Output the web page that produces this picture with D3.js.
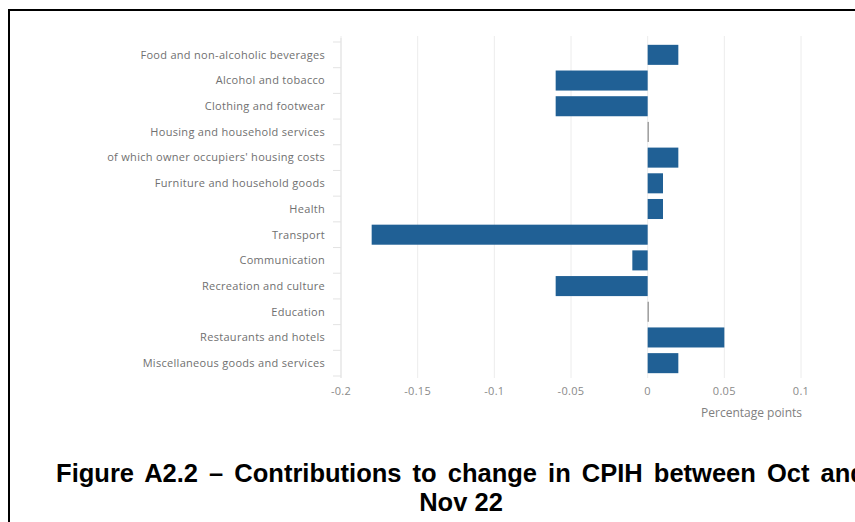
<!DOCTYPE html>
<html>
<head>
<meta charset="utf-8">
<script src="https://cdn.jsdelivr.net/npm/d3@7"></script>
<style>
  body { margin: 0; background: #fff; }
  svg { display: block; }
</style>
</head>
<body>
<div id="chart"></div>
<script>
// contributions to change in CPIH, Oct to Nov 22
var categories = [
  "Food and non-alcoholic beverages",
  "Alcohol and tobacco",
  "Clothing and footwear",
  "Housing and household services",
  "of which owner occupiers' housing costs",
  "Furniture and household goods",
  "Health",
  "Transport",
  "Communication",
  "Recreation and culture",
  "Education",
  "Restaurants and hotels",
  "Miscellaneous goods and services"
];
var values = [0.02, -0.06, -0.06, 0, 0.02, 0.01, 0.01, -0.18, -0.01, -0.06, 0, 0.05, 0.02];
var xTicks = [-0.2, -0.15, -0.1, -0.05, 0, 0.05, 0.1];
var tickLabels = ["-0.2", "-0.15", "-0.1", "-0.05", "0", "0.05", "0.1"];
var titleLines = ["Figure A2.2 \u2013 Contributions to change in CPIH between Oct and", "Nov 22"];

var w = 855,
    h = 522;

var svg = d3.select("#chart").append("svg")
    .attr("width", w)
    .attr("height", h);

// frame round the figure (right and bottom run off the page)
svg.append("rect")
    .attr("x", 9)
    .attr("y", 10)
    .attr("width", 900)
    .attr("height", 600)
    .attr("fill", "none")
    .attr("stroke", "#000")
    .attr("stroke-width", 2);

var x = d3.scaleLinear()
    .domain([-0.2, 0.1])
    .range([341, 801]);

var y = d3.scaleBand()
    .domain(categories)
    .range([42, 376])
    .paddingInner(0.22)
    .paddingOuter(0.11);

// vertical gridlines
svg.append("g").selectAll("line")
    .data(xTicks)
  .enter().append("line")
    .attr("x1", function(d) { return x(d); })
    .attr("x2", function(d) { return x(d); })
    .attr("y1", 36)
    .attr("y2", 378)
    .attr("stroke", "#ececec")
    .attr("stroke-width", 1);

// category axis on the left
var yAxis = svg.append("g")
    .attr("transform", "translate(" + x(-0.2) + ",0)");
yAxis.append("line")
    .attr("x1", 0).attr("x2", 0)
    .attr("y1", 38).attr("y2", 378)
    .attr("stroke", "#e3e3e3");
var step = y.step();
yAxis.selectAll("line.tick")
    .data(d3.range(categories.length + 1))
  .enter().append("line")
    .attr("class", "tick")
    .attr("x1", -8).attr("x2", 0)
    .attr("y1", function(i) { return 42 + i * step; })
    .attr("y2", function(i) { return 42 + i * step; })
    .attr("stroke", "#e3e3e3");
yAxis.selectAll("text")
    .data(categories)
  .enter().append("text")
    .attr("x", -16)
    .attr("y", function(d) { return y(d) + y.bandwidth() / 2; })
    .attr("dy", "0.35em")
    .attr("text-anchor", "end")
    .attr("font-family", "'Open Sans', sans-serif")
    .attr("font-size", 11)
    .attr("letter-spacing", 0.3)
    .attr("fill", "#707070")
    .text(function(d) { return d; });

// bars
svg.append("g").selectAll("rect")
    .data(values)
  .enter().append("rect")
    .attr("x", function(d) { return x(Math.min(0, d)); })
    .attr("y", function(d, i) { return y(categories[i]); })
    .attr("width", function(d) { return Math.max(1, Math.abs(x(d) - x(0))); })
    .attr("height", y.bandwidth())
    .attr("fill", function(d) { return d === 0 ? "#777" : "#206095"; });

// x tick labels
svg.append("g").selectAll("text")
    .data(xTicks)
  .enter().append("text")
    .attr("x", function(d) { return x(d); })
    .attr("y", 395)
    .attr("text-anchor", "middle")
    .attr("font-family", "'Open Sans', sans-serif")
    .attr("font-size", 11)
    .attr("letter-spacing", 0.3)
    .attr("fill", "#8a8a8a")
    .text(function(d, i) { return tickLabels[i]; });

svg.append("text")
    .attr("x", 802)
    .attr("y", 417)
    .attr("text-anchor", "end")
    .attr("font-family", "'Open Sans', sans-serif")
    .attr("font-size", 12)
    .attr("fill", "#808080")
    .text("Percentage points");

// figure title, first line justified in the source document
svg.append("g").selectAll("text")
    .data(titleLines)
  .enter().append("text")
    .attr("x", 461)
    .attr("y", function(d, i) { return 482 + i * 29; })
    .attr("text-anchor", "middle")
    .attr("font-family", "'Liberation Sans', Arial, sans-serif")
    .attr("font-weight", "bold")
    .attr("font-size", 25.5)
    .attr("word-spacing", function(d, i) { return i === 0 ? 4 : 0; })
    .attr("fill", "#000")
    .text(function(d) { return d; });
</script>
</body>
</html>
